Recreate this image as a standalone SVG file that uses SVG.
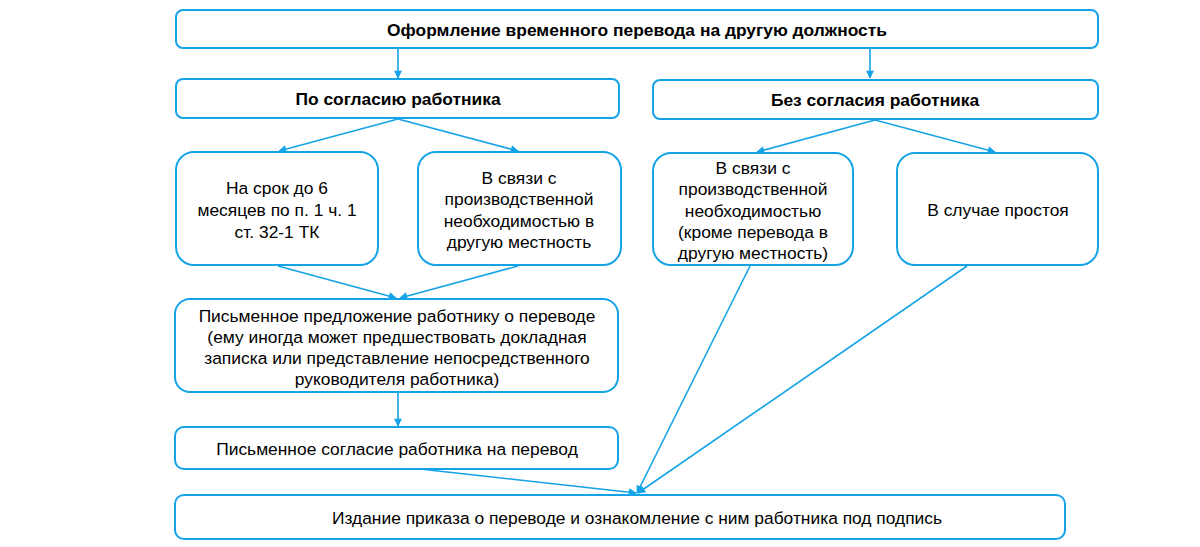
<svg xmlns="http://www.w3.org/2000/svg" width="1200" height="547" viewBox="0 0 1200 547">
<style>
.box{fill:#fff;stroke:#14a3e6;stroke-width:2}
.t{font-family:"Liberation Sans",Arial,sans-serif;font-size:17.4px;fill:#000;text-anchor:middle}
.b{font-weight:bold}
.c{stroke:#14a3e6;stroke-width:1.6;fill:none;marker-end:url(#ah)}
</style>
<defs>
<marker id="ah" viewBox="0 0 10 10" refX="9" refY="5" markerWidth="10" markerHeight="8" markerUnits="userSpaceOnUse" orient="auto">
<path d="M0,0 L10,5 L0,10 z" fill="#14a3e6"/>
</marker>
</defs>
<rect width="1200" height="547" fill="#fff"/>
<g id="connectors">
<line class="c" x1="398" y1="49" x2="398" y2="78"/>
<line class="c" x1="870" y1="49" x2="870" y2="78"/>
<line class="c" x1="398" y1="119" x2="279" y2="151"/>
<line class="c" x1="398" y1="119" x2="518" y2="151"/>
<line class="c" x1="875" y1="120" x2="757" y2="152"/>
<line class="c" x1="875" y1="120" x2="995" y2="152"/>
<line class="c" x1="278" y1="266" x2="396" y2="298"/>
<line class="c" x1="518" y1="266" x2="400" y2="298"/>
<line class="c" x1="398" y1="392" x2="398" y2="426"/>
<line class="c" x1="420" y1="469" x2="636" y2="493"/>
<line class="c" x1="750" y1="266" x2="637" y2="493"/>
<line class="c" x1="967" y1="266" x2="638" y2="493"/>
</g>
<g id="n1"><rect class="box" x="176" y="10" width="922" height="38" rx="7"/><text class="t b" x="637" y="36">Оформление временного перевода на другую должность</text></g>
<g id="n2"><rect class="box" x="176" y="79" width="443" height="39" rx="7"/><text class="t b" x="398" y="105">По согласию работника</text></g>
<g id="n3"><rect class="box" x="653" y="80" width="445" height="39" rx="7"/><text class="t b" x="875" y="106">Без согласия работника</text></g>
<g id="n4"><rect class="box" x="176" y="152" width="202" height="113" rx="18"/><text class="t" x="277"><tspan x="277" y="194">На срок до 6</tspan><tspan x="277" y="216">месяцев по п. 1 ч. 1</tspan><tspan x="277" y="238">ст. 32-1 ТК</tspan></text></g>
<g id="n5"><rect class="box" x="418" y="152" width="203" height="113" rx="18"/><text class="t" x="519"><tspan x="519" y="184">В связи с</tspan><tspan x="519" y="205">производственной</tspan><tspan x="519" y="227">необходимостью в</tspan><tspan x="519" y="248">другую местность</tspan></text></g>
<g id="n6"><rect class="box" x="653" y="153" width="200" height="112" rx="18"/><text class="t" x="753"><tspan x="753" y="174">В связи с</tspan><tspan x="753" y="195">производственной</tspan><tspan x="753" y="217">необходимостью</tspan><tspan x="753" y="238">(кроме перевода в</tspan><tspan x="753" y="259">другую местность)</tspan></text></g>
<g id="n7"><rect class="box" x="897" y="153" width="201" height="112" rx="18"/><text class="t" x="998" y="216">В случае простоя</text></g>
<g id="n8"><rect class="box" x="175" y="299" width="443" height="93" rx="15"/><text class="t" x="397"><tspan x="397" y="322">Письменное предложение работнику о переводе</tspan><tspan x="397" y="343">(ему иногда может предшествовать докладная</tspan><tspan x="397" y="364">записка или представление непосредственного</tspan><tspan x="397" y="385">руководителя работника)</tspan></text></g>
<g id="n9"><rect class="box" x="175" y="427" width="443" height="42" rx="9"/><text class="t" x="397" y="455">Письменное согласие работника на перевод</text></g>
<g id="n10"><rect class="box" x="175" y="495" width="890" height="44" rx="9"/><text class="t" x="637" y="524">Издание приказа о переводе и ознакомление с ним работника под подпись</text></g>
</svg>
